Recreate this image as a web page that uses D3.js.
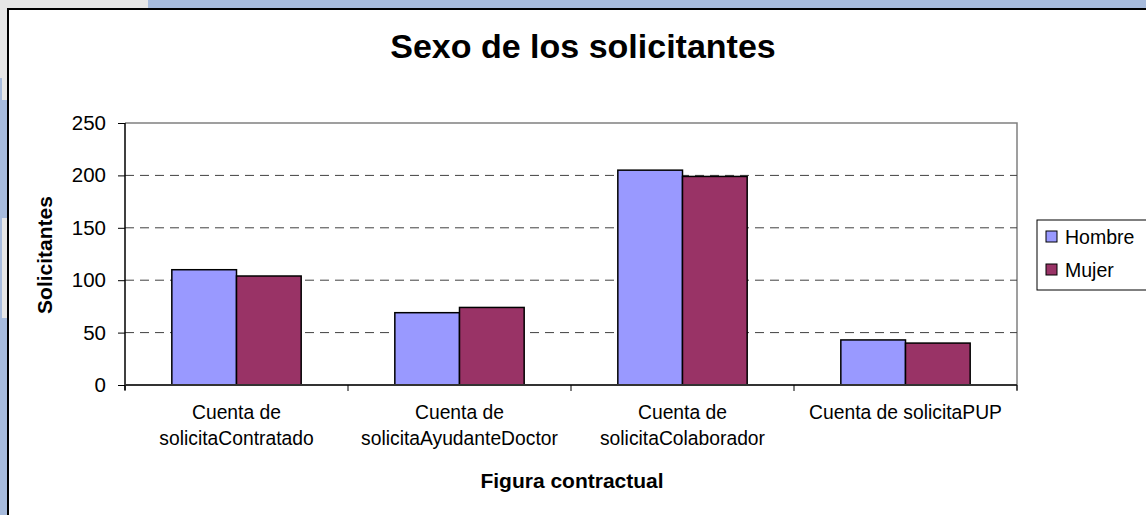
<!DOCTYPE html>
<html>
<head>
<meta charset="utf-8">
<script src="https://cdn.jsdelivr.net/npm/d3@7"></script>
<style>
  body { margin: 0; background: #fff; }
  svg { display: block; font-family: Arial, "Liberation Sans", sans-serif; }
</style>
</head>
<body>
<svg width="1146" height="515"></svg>
<script>
// data
const categories = [
    "Cuenta de solicitaContratado",
    "Cuenta de solicitaAyudanteDoctor",
    "Cuenta de solicitaColaborador",
    "Cuenta de solicitaPUP"
];
const series = ["Hombre", "Mujer"];
const hombre = [110, 69, 205, 43];
const mujer = [104, 74, 199, 40];
const yTicks = [0, 50, 100, 150, 200, 250];
const colors = ["#9999ff", "#993366"];

const svg = d3.select("svg");

// window background around the chart frame
svg.append("rect").attr("x", 0).attr("y", 0).attr("width", 1146).attr("height", 515).attr("fill", "#a7bbdc");
svg.append("rect").attr("x", 0).attr("y", 0).attr("width", 148).attr("height", 8).attr("fill", "#e6e6e6");
svg.append("rect").attr("x", 0).attr("y", 0).attr("width", 7).attr("height", 78).attr("fill", "#e6e6e6");
svg.append("rect").attr("x", 2).attr("y", 78).attr("width", 5).attr("height", 22).attr("fill", "#e6e6e6");
svg.append("rect").attr("x", 2).attr("y", 218).attr("width", 5).attr("height", 100).attr("fill", "#e6e6e6");

// chart frame
svg.append("rect")
    .attr("x", 8).attr("y", 9)
    .attr("width", 1150).attr("height", 520)
    .attr("fill", "#fff")
    .attr("stroke", "#000")
    .attr("stroke-width", 2);

const margin = { left: 125, top: 123, right: 1017, bottom: 385 };

const x = d3.scaleBand()
    .domain(categories)
    .range([margin.left, margin.right])
    .paddingInner(0.42)
    .paddingOuter(0.21);

const xSub = d3.scaleBand()
    .domain(series)
    .range([0, x.bandwidth()]);

const y = d3.scaleLinear()
    .domain([0, 250])
    .range([margin.bottom, margin.top]);

const step = (margin.right - margin.left) / categories.length;

// plot border (top and right)
svg.append("path")
    .attr("d", `M${margin.left},${margin.top}H${margin.right}V${margin.bottom + 5}`)
    .attr("fill", "none")
    .attr("stroke", "#808080")
    .attr("stroke-width", 1.5);

// dashed gridlines
svg.append("g")
    .selectAll("line")
    .data(yTicks.filter(d => d > 0 && d < 250))
    .join("line")
    .attr("x1", margin.left)
    .attr("x2", margin.right)
    .attr("y1", d => y(d))
    .attr("y2", d => y(d))
    .attr("stroke", "#404040")
    .attr("stroke-width", 1)
    .attr("stroke-dasharray", "9,6");

// bars
const rows = series.map((s, i) => ({ name: s, color: colors[i], values: i === 0 ? hombre : mujer }));
const groups = svg.append("g")
    .selectAll("g")
    .data(rows)
    .join("g")
    .attr("fill", d => d.color);

groups.selectAll("rect")
    .data(d => d.values.map((v, j) => ({ cat: categories[j], name: d.name, value: v })))
    .join("rect")
    .attr("x", d => x(d.cat) + xSub(d.name))
    .attr("y", d => y(d.value))
    .attr("width", xSub.bandwidth())
    .attr("height", d => y(0) - y(d.value))
    .attr("stroke", "#000")
    .attr("stroke-width", 1.5);

// y axis
const yAxis = svg.append("g")
    .attr("transform", `translate(${margin.left},0)`)
    .call(d3.axisLeft(y).tickValues(yTicks).tickSize(7).tickPadding(12));
yAxis.select(".domain").attr("d", `M0,${margin.top}V${margin.bottom + 5}`).attr("stroke", "#000").attr("stroke-width", 1.5);
yAxis.selectAll(".tick line").attr("stroke", "#000");
yAxis.selectAll("text").attr("font-size", 20.5).attr("font-family", "Arial, 'Liberation Sans', sans-serif").attr("fill", "#000");

// x axis line and ticks between categories
svg.append("line")
    .attr("x1", margin.left).attr("x2", margin.right)
    .attr("y1", margin.bottom).attr("y2", margin.bottom)
    .attr("stroke", "#333").attr("stroke-width", 2);

svg.append("g")
    .selectAll("line")
    .data(d3.range(categories.length + 1))
    .join("line")
    .attr("x1", i => margin.left + i * step)
    .attr("x2", i => margin.left + i * step)
    .attr("y1", margin.bottom)
    .attr("y2", margin.bottom + 6)
    .attr("stroke", "#000");

// category labels, wrapped to the category width
const catLabels = svg.append("g")
    .selectAll("text")
    .data(categories)
    .join("text")
    .attr("x", d => x(d) + x.bandwidth() / 2)
    .attr("y", margin.bottom + 34)
    .attr("text-anchor", "middle")
    .attr("font-size", 19.3)
    .attr("fill", "#000");

catLabels.each(function (d) {
    const t = d3.select(this);
    t.text(d);
    if (this.getComputedTextLength() > step - 10) {
        const cut = d.indexOf(" ", d.indexOf(" ") + 1);
        t.text(null);
        t.append("tspan").attr("x", x(d) + x.bandwidth() / 2).text(d.slice(0, cut));
        t.append("tspan").attr("x", x(d) + x.bandwidth() / 2).attr("dy", 26).text(d.slice(cut + 1));
    }
});

// titles
svg.append("text")
    .attr("x", 583)
    .attr("y", 58)
    .attr("text-anchor", "middle")
    .attr("font-size", 34)
    .attr("font-weight", "bold")
    .text("Sexo de los solicitantes");

svg.append("text")
    .attr("x", 572)
    .attr("y", 488)
    .attr("text-anchor", "middle")
    .attr("font-size", 21)
    .attr("font-weight", "bold")
    .text("Figura contractual");

svg.append("text")
    .attr("transform", "translate(52,255) rotate(-90)")
    .attr("text-anchor", "middle")
    .attr("font-size", 21)
    .attr("font-weight", "bold")
    .text("Solicitantes");

// legend
const legend = svg.append("g").attr("transform", "translate(1037,220)");
legend.append("rect")
    .attr("width", 130).attr("height", 70)
    .attr("fill", "#fff")
    .attr("stroke", "#000")
    .attr("stroke-width", 1);

const items = legend.selectAll("g")
    .data(rows)
    .join("g")
    .attr("transform", (d, i) => `translate(9,${17 + i * 33})`);

items.append("rect")
    .attr("width", 11).attr("height", 11)
    .attr("y", -6)
    .attr("fill", d => d.color)
    .attr("stroke", "#000")
    .attr("stroke-width", 1);

items.append("text")
    .attr("x", 19)
    .attr("y", 7)
    .attr("font-size", 19.5)
    .text(d => d.name);
</script>
</body>
</html>
